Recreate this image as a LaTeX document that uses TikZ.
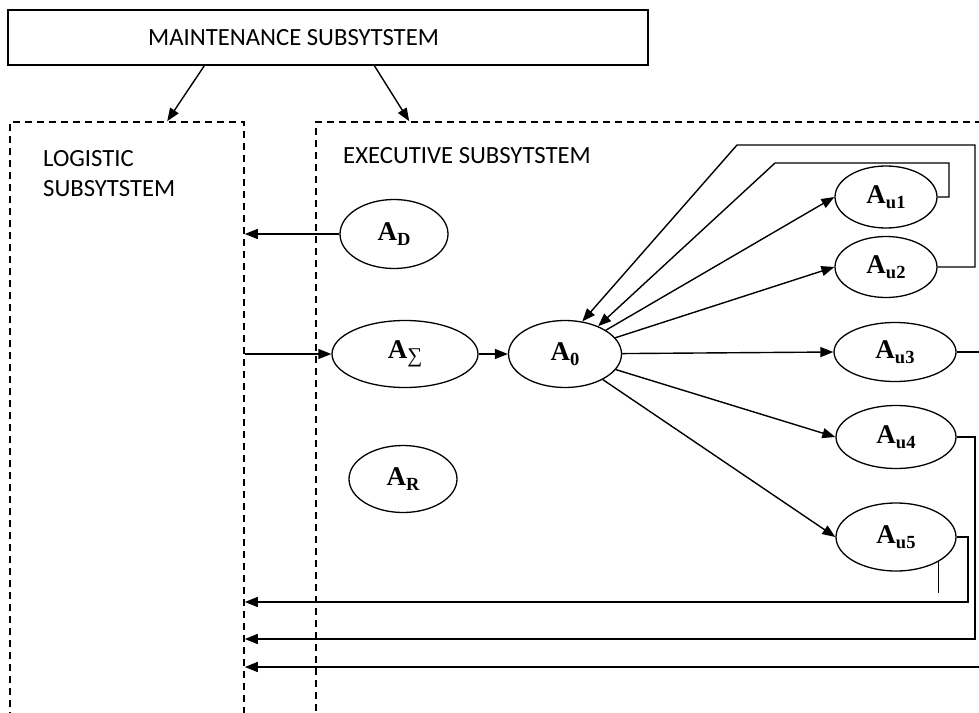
\documentclass[tikz,border=0pt]{standalone}
\usepackage{fontspec}
\setmainfont{Liberation Serif}
\newfontfamily\calfont{Carlito}
\usetikzlibrary{shapes.geometric,arrows.meta,calc}
\newcommand\Alab[1]{\fontsize{27}{27}\selectfont\bfseries A\raisebox{-4.5pt}{\fontsize{18.5}{18.5}\selectfont #1}}
\begin{document}
\begin{tikzpicture}[x=1pt,y=-1pt,
  el/.style={draw, ellipse, line width=1.3pt, inner sep=0pt},
  arr/.style={-{Triangle[length=13pt,width=10pt]}, line width=1.4pt},
  ln/.style={line width=1.4pt},
  dbox/.style={draw, dash pattern=on 7pt off 5pt, line width=1.6pt, inner sep=0pt},
  captxt/.style={font=\calfont\fontsize{24.7}{27}\selectfont, inner sep=0pt, anchor=base west}]
\useasboundingbox (0,0) rectangle (979,712);
\fill[white] (0,0) rectangle (979,712);
% boxes
\node[draw, line width=1.3pt, minimum width=640pt, minimum height=55pt, inner sep=0pt] (maint) at (328,37.5) {};
\node[captxt] (mt) at (148,45) {MAINTENANCE SUBSYTSTEM};
\node[dbox, minimum width=234pt, minimum height=658pt] (logi) at (127,451) {};
\node[dbox, minimum width=694pt, minimum height=658pt] (exec) at (663,451) {};
\node[captxt] (lt1) at (43,166) {LOGISTIC};
\node[captxt] (lt2) at (43,196) {SUBSYTSTEM};
\node[captxt] (et) at (343,163) {EXECUTIVE SUBSYTSTEM};
% ellipses
\node[el, minimum width=108pt, minimum height=69pt] (AD) at (394,234) {\Alab{D}};
\node[el, minimum width=146pt, minimum height=67pt] (AS) at (405,354) {\Alab{\mdseries\fontsize{21}{21}\selectfont\symbol{"2211}}};
\node[el, minimum width=113pt, minimum height=67pt] (A0) at (565,354) {\Alab{0}};
\node[el, minimum width=108pt, minimum height=67pt] (AR) at (403,479) {\Alab{R}};
\node[el, minimum width=102pt, minimum height=62pt] (Au1) at (886,197) {\Alab{u1}};
\node[el, minimum width=102pt, minimum height=61pt] (Au2) at (886,267) {\Alab{u2}};
\node[el, minimum width=122pt, minimum height=59pt] (Au3) at (895,352) {\Alab{u3}};
\node[el, minimum width=120pt, minimum height=63pt] (Au4) at (896,437) {\Alab{u4}};
\node[el, minimum width=120pt, minimum height=68pt] (Au5) at (896,537) {\Alab{u5}};
% maintenance arrows
\draw[arr] ($(maint.south west)+(197,0)$) -- ($(logi.north west)+(158,0)$);
\draw[arr] ($(maint.south west)+(367,0)$) -- ($(exec.north west)+(94,0)$);
% left connections
\draw[arr] (AD.west) -- (AD.west -| logi.east);
\draw[arr] (logi.east |- AS.west) -- (AS.west);
\draw[arr] (AS) -- (A0);
% A0 to outputs
\draw[arr] (A0) -- (Au1.west);
\draw[arr] (A0) -- (Au2.west);
\draw[arr] (A0) -- (Au3.west);
\draw[arr] (A0) -- (Au4.west);
\draw[arr] (A0) -- (Au5.west);
% feedback loops to A0
\draw[arr] (Au1.east) -- (949,197) -- (949,163) -- (775,163) -- (A0.40);
\draw[arr] (Au2.east) -- (975,267) -- (975,145) -- (737,145) -- (A0.62);
% returns to logistic
\draw[arr] (Au5.east) -- (968,537) -- (968,602) -- (logi.east |- 0,602);
\draw[arr] (Au4.east) -- (975,437) -- (975,639) -- (logi.east |- 0,639);
\draw[arr] (Au3.east) -- (995,352) -- (995,667) -- (logi.east |- 0,667);
\coordinate (stub) at ($(Au5.-30)+(0,31)$);
\draw[ln] (Au5.-30) -- (stub);
\end{tikzpicture}
\end{document}
